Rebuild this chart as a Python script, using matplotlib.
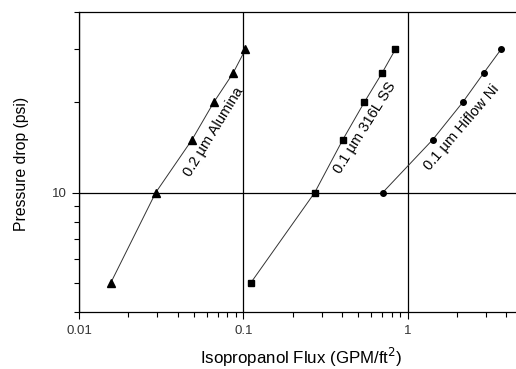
"""
Pressure drop vs isopropanol flux for three filter media (log-log)
"""

import matplotlib

matplotlib.use("Agg")
import matplotlib.pyplot as plt
from matplotlib import ticker

plt.rcParams["font.family"] = ["Liberation Sans", "DejaVu Sans"]

# pressure drop readings (psi), shared by the series
ALUMINA_DP: list[float] = [5, 10, 15, 20, 25, 30]
SS_DP: list[float] = [5, 10, 15, 20, 25, 30]
NI_DP: list[float] = [10, 15, 20, 25, 30]

# isopropanol flux (GPM/ft^2)
ALUMINA_FLUX: list[float] = [0.0156, 0.0293, 0.0487, 0.0661, 0.0866, 0.103]
SS_FLUX: list[float] = [0.111, 0.272, 0.403, 0.545, 0.698, 0.842]
NI_FLUX: list[float] = [0.705, 1.42, 2.165, 2.90, 3.70]

LABELS: list[str] = ["0.2 \u00b5m Alumina", "0.1 \u00b5m 316L SS", "0.1 \u00b5m Hiflow Ni"]
X_TICKS: list[float] = [0.01, 0.1, 1]
X_TICK_LABELS: list[str] = ["0.01", "0.1", "1"]
Y_TICKS: list[float] = [10]
Y_TICK_LABELS: list[str] = ["10"]

fig = plt.figure(figsize=(5.16, 3.69), dpi=100)
ax = fig.add_axes([79 / 516, 57 / 369, 1 - 79 / 516, 300 / 369])

line_kw = {"color": "#333333", "linewidth": 0.7, "markerfacecolor": "black",
           "markeredgecolor": "black"}
ax.plot(ALUMINA_FLUX, ALUMINA_DP, marker="^", markersize=5.5, **line_kw)
ax.plot(SS_FLUX, SS_DP, marker="s", markersize=4.3, **line_kw)
ax.plot(NI_FLUX, NI_DP, marker="o", markersize=4.0, **line_kw)

ax.set_xscale("log")
ax.set_yscale("log")
ax.set_xlim(0.01, 4.57)
ax.set_ylim(4, 40)

ax.xaxis.set_major_locator(ticker.FixedLocator(X_TICKS))
ax.xaxis.set_major_formatter(ticker.FixedFormatter(X_TICK_LABELS))
ax.xaxis.set_minor_locator(ticker.LogLocator(base=10, subs=range(2, 10)))
ax.xaxis.set_minor_formatter(ticker.NullFormatter())
ax.yaxis.set_major_locator(ticker.FixedLocator(Y_TICKS))
ax.yaxis.set_major_formatter(ticker.FixedFormatter(Y_TICK_LABELS))
ax.yaxis.set_minor_locator(ticker.LogLocator(base=10, subs=range(2, 10)))
ax.yaxis.set_minor_formatter(ticker.NullFormatter())

ax.tick_params(which="major", length=5, width=0.8, pad=4, labelsize=9.5,
               labelcolor="#333333")
ax.tick_params(which="minor", length=3.5, width=0.8)

ax.grid(True, which="major", color="black", linewidth=0.9)
ax.spines["right"].set_visible(False)
for side in ("left", "top", "bottom"):
    ax.spines[side].set_linewidth(0.9)

# labels written along each curve
ax.text(0.0663, 15.9, LABELS[0], rotation=58.5, ha="center", va="center",
        rotation_mode="anchor", fontsize=10.5)
ax.text(0.551, 16.4, LABELS[1], rotation=58, ha="center", va="center",
        rotation_mode="anchor", fontsize=10.5)
ax.text(2.13, 16.5, LABELS[2], rotation=49.5, ha="center", va="center",
        rotation_mode="anchor", fontsize=10.5)

fig.text(301 / 516, 1 - 357 / 369, "Isopropanol Flux (GPM/ft$^2$)",
         ha="center", va="center", fontsize=12.2)
fig.text(22 / 516, 1 - 164 / 369, "Pressure drop (psi)", rotation=90,
         ha="center", va="center", fontsize=11.3)

fig.savefig("out.png", dpi=100)
